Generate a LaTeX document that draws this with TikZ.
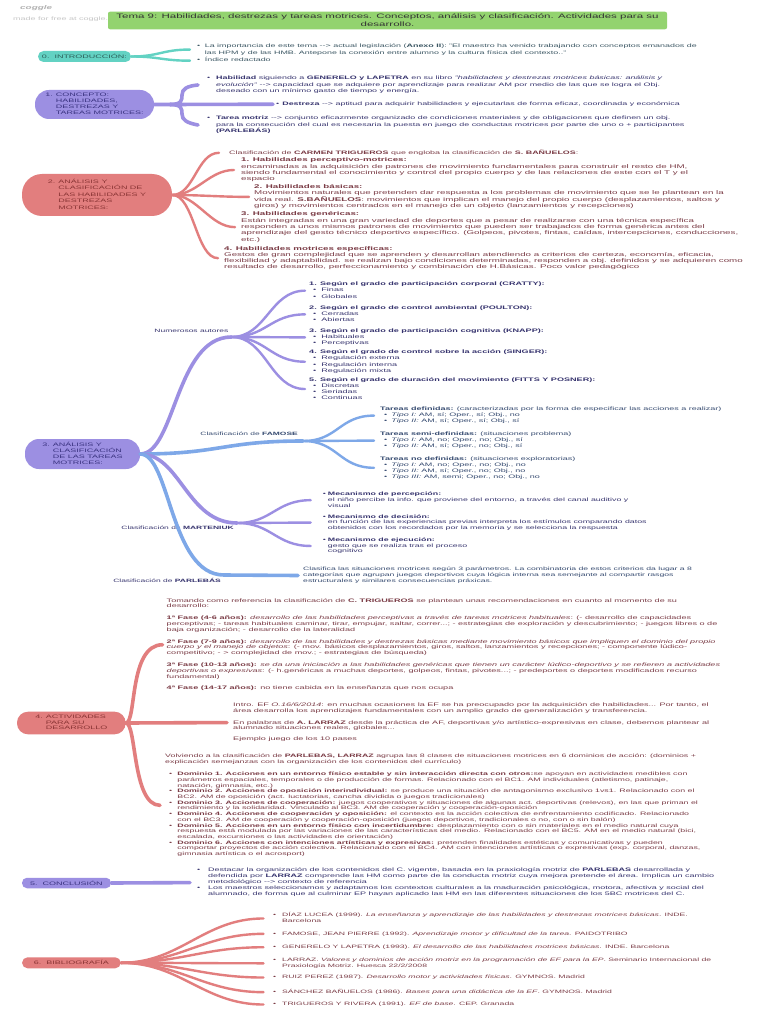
\documentclass[tikz,border=0pt]{standalone}
\usepackage{fontspec}
\setmainfont{Liberation Sans}[FakeStretch=1.8]
\usepackage{xcolor}
\usetikzlibrary{positioning,calc}
\definecolor{verde}{HTML}{93D36F}
\definecolor{turquesa}{HTML}{63D2C3}
\definecolor{lila}{HTML}{9C8FE2}
\definecolor{azul}{HTML}{7EA8E8}
\definecolor{salmon}{HTML}{E27E7E}
\definecolor{osturq}{HTML}{3A5562}
\definecolor{oslila}{HTML}{36336E}
\definecolor{osazul}{HTML}{34496F}
\definecolor{osrojo}{HTML}{7A3B45}
\definecolor{pturq}{HTML}{2C5E58}
\definecolor{plila}{HTML}{3A3380}
\definecolor{projo}{HTML}{8A3535}
\newcommand{\blk}[1]{\begin{tabular}[t]{@{}l@{}}#1\end{tabular}}
\newcommand{\bul}[2][4.5pt]{\begin{tabular}[t]{@{}l@{\hspace{#1}}l@{}}#2\end{tabular}}
\newcommand{\lst}[2][4.5pt]{\begin{tabular}[t]{@{\hspace{4pt}}l@{\hspace{#1}}l@{}}#2\end{tabular}}
\newcommand{\cab}[1]{\multicolumn{2}{@{}l@{}}{#1}}
\newcommand{\flecha}{-{}->}
\newcommand{\tam}[2]{\fontsize{#1}{#2}\selectfont}
\tikzset{
  pildora/.style={inner sep=0pt, font=\tam{5}{6}},
  texto/.style={inner sep=0pt, anchor=base west},
  etiqueta/.style={inner sep=0pt, font=\tam{4.7}{6}},
  rama/.style={line width=2.4pt, line cap=round},
  tronco/.style={line width=3.6pt, line cap=round}
}
\begin{document}
\begin{tikzpicture}[x=1pt,y=-1pt]
\fill[white] (0,0) rectangle (768,1024);
\useasboundingbox (0,0) rectangle (768,1024);

\node[texto, text=gray!60, font=\tam{5.5}{6}\bfseries\itshape] (marca) at (20,10) {coggle};
\node[texto, text=gray!45, font=\tam{5}{6}] (hecho) at (13,21) {made for free at coggle.it};
\node[fill=verde, rounded corners=2pt, minimum width=559, minimum height=17.6, inner sep=0pt, align=center, text=black!80, font=\tam{6.4}{8.3}] (tema) at (387.5,20.5) {Tema 9: Habilidades, destrezas y tareas motrices. Conceptos, análisis y clasificación. Actividades para su\\desarrollo.};

\node[pildora, fill=turquesa, text=pturq, minimum width=93, minimum height=11, rounded corners=5.5pt] (intro) at (84.5,56.5) {0.\ \ INTRODUCCIÓN:};
\node[texto, text=osturq, font=\tam{4.95}{6.5}] (imp) at (197,47.6) {\bul{•&La importancia de este tema \flecha{} actual legislación (\textbf{Anexo II}): "El maestro ha venido trabajando con conceptos emanados de\\&las HPM y de las HMB. Antepone la conexión entre alumno y la cultura física del contexto.."}};
\node[texto, text=osturq, font=\tam{4.95}{6.5}] (ind) at (197,62) {\bul{•&Índice redactado}};
\draw[rama, turquesa] (intro.east) .. controls +(28,0) and +(-28,0) .. ([xshift=-7pt]imp.west);
\draw[rama, turquesa] (intro.east) .. controls +(28,0) and +(-28,0) .. ([xshift=-7pt]ind.west);

\node[pildora, fill=lila, text=plila, minimum width=119, minimum height=29, rounded corners=14pt] (concepto) at (94.5,104.5) {\bul[3pt]{1.&CONCEPTO:\\&HABILIDADES,\\&DESTREZAS Y\\&TAREAS MOTRICES:}};
\node[texto, text=oslila, font=\tam{4.95}{6.5}] (habilidad) at (207,79.8) {\bul[5.9pt]{•&\textbf{Habilidad} siguiendo a \textbf{GENERELO y LAPETRA} en su libro \textit{"habilidades y destrezas motrices básicas: análisis y}\\&\textit{evolución"} \flecha{} capacidad que se adquiere por aprendizaje para realizar AM por medio de las que se logra el Obj.\\&deseado con un mínimo gasto de tiempo y energía.}};
\node[texto, text=oslila, font=\tam{4.95}{6.5}] (destreza) at (276,105.5) {\bul[3pt]{•&\textbf{Destreza} \flecha{} aptitud para adquirir habilidades y ejecutarlas de forma eficaz, coordinada y económica}};
\node[texto, text=oslila, font=\tam{4.95}{6.5}] (tarea) at (207,119.8) {\bul[5.9pt]{•&\textbf{Tarea motriz} \flecha{} conjunto eficazmente organizado de condiciones materiales y de obligaciones que definen un obj.\\&para la consecución del cual es necesaria la puesta en juego de conductas motrices por parte de uno o + participantes\\&\textbf{(PARLEBÁS)}}};
\coordinate (cb) at (170,104.5);
\draw[tronco, lila] (concepto.east) -- (cb) -- ([xshift=-3pt]destreza.west);
\draw[tronco, lila] (cb) .. controls (182,104.5) and (182,100) .. (182,95) .. controls (182,89) and (187,86) .. ([xshift=-9pt]habilidad.west);
\draw[tronco, lila] (cb) .. controls (182,104.5) and (182,109) .. (182,114) .. controls (182,120) and (187,123) .. ([xshift=-9pt]tarea.west);

\node[pildora, fill=salmon, text=projo, minimum width=150, minimum height=42, rounded corners=20pt, font=\tam{5}{6.5}] (analisis) at (97,195) {\bul[3pt]{2.&ANÁLISIS Y\\&CLASIFICACIÓN DE\\&LAS HABILIDADES Y\\&DESTREZAS\\&MOTRICES:}};
\node[texto, text=osrojo, font=\tam{4.95}{6}] (trig) at (229,154.5) {Clasificación de \textbf{CARMEN TRIGUEROS} que engloba la clasificación de \textbf{S. BAÑUELOS}:};
\node[texto, text=osrojo, font=\tam{5.42}{6.3}] (hab1) at (241,161.8) {\blk{\textbf{1. Habilidades perceptivo-motrices:}\\encaminadas a la adquisición de patrones de movimiento fundamentales para construir el resto de HM,\\siendo fundamental el conocimiento y control del propio cuerpo y de las relaciones de este con el T y el\\espacio}};
\node[texto, text=osrojo, font=\tam{5.42}{6.3}] (hab2) at (254,188.5) {\blk{\textbf{2. Habilidades básicas:}\\Movimientos naturales que pretenden dar respuesta a los problemas de movimiento que se le plantean en la\\vida real. \textbf{S.BAÑUELOS}: movimientos que implican el manejo del propio cuerpo (desplazamientos, saltos y\\giros) y movimientos centrados en el manejo de un objeto (lanzamientos y recepciones)}};
\node[texto, text=osrojo, font=\tam{5.42}{6.3}] (hab3) at (241,215.8) {\blk{\textbf{3. Habilidades genéricas:}\\Están integradas en una gran variedad de deportes que a pesar de realizarse con una técnica específica\\responden a unos mismos patrones de movimiento que pueden ser trabajados de forma genérica antes del\\aprendizaje del gesto técnico deportivo específico. (Golpeos, pivotes, fintas, caídas, intercepciones, conducciones,\\etc.)}};
\node[texto, text=osrojo, font=\tam{5.42}{6.3}] (hab4) at (224,250) {\blk{\textbf{4. Habilidades motrices específicas:}\\Gestos de gran complejidad que se aprenden y desarrollan atendiendo a criterios de certeza, economía, eficacia,\\flexibilidad y adaptabilidad. se realizan bajo condiciones determinadas, responden a obj. definidos y se adquieren como\\resultado de desarrollo, perfeccionamiento y combinación de H.Básicas. Poco valor pedagógico}};
\draw[rama, salmon] (analisis.east) .. controls +(22,0) and +(-22,0) .. ([xshift=-10pt]trig.west);
\draw[rama, salmon] (analisis.east) .. controls +(25,0) and +(-25,0) .. ([xshift=-7pt]hab1.west);
\draw[rama, salmon] (analisis.east) .. controls +(30,0) and +(-30,0) .. ([xshift=-5pt]hab2.west);
\draw[rama, salmon] (analisis.east) .. controls +(25,0) and +(-25,0) .. ([xshift=-6pt]hab3.west);
\draw[rama, salmon] (analisis.east) .. controls +(22,0) and +(-22,0) .. ([xshift=-6pt]hab4.west);

\node[pildora, fill=lila, text=plila, minimum width=115, minimum height=30, rounded corners=14pt] (tareas) at (82.5,454) {\bul[3pt]{3.&ANÁLISIS Y\\&CLASIFICACIÓN\\&DE LAS TAREAS\\&MOTRICES:}};
\coordinate (num) at (231.5,337);
\coordinate (fam) at (303,441);
\coordinate (mart) at (237,523);
\coordinate (parl) at (224,575);
\node[etiqueta, text=oslila, above left=4pt and 3pt of num] (numlab) {Numerosos autores};
\node[etiqueta, text=osazul, above left=5pt and 5pt of fam] (famlab) {Clasificación de \textbf{FAMOSE}};
\node[etiqueta, text=oslila, below left=2.5pt and 3pt of mart] (martlab) {Clasificación de \textbf{MARTENIUK}};
\node[etiqueta, text=oslila, below left=3pt and 3pt of parl] (parlab) {Clasificación de \textbf{PARLEBÁS}};

\node[texto, text=oslila, font=\tam{5.05}{6.1}] (cratty) at (309,285.8) {\lst[5pt]{\cab{\textbf{1. Según el grado de participación corporal (CRATTY):}}\\•&Finas\\•&Globales}};
\node[texto, text=oslila, font=\tam{5.05}{6.1}] (poulton) at (309,309.5) {\lst[5pt]{\cab{\textbf{2. Según el grado de control ambiental (POULTON):}}\\•&Cerradas\\•&Abiertas}};
\node[texto, text=oslila, font=\tam{5.05}{6.1}] (knapp) at (309,332.5) {\lst[5pt]{\cab{\textbf{3. Según el grado de participación cognitiva (KNAPP):}}\\•&Habituales\\•&Perceptivas}};
\node[texto, text=oslila, font=\tam{5.05}{6.1}] (singer) at (309,353.8) {\lst[5pt]{\cab{\textbf{4. Según el grado de control sobre la acción (SINGER):}}\\•&Regulación externa\\•&Regulación interna\\•&Regulación mixta}};
\node[texto, text=oslila, font=\tam{5.05}{6.1}] (fitts) at (309,381.1) {\lst[5pt]{\cab{\textbf{5. Según el grado de duración del movimiento (FITTS Y POSNER):}}\\•&Discretas\\•&Seriadas\\•&Continuas}};
\draw[tronco, lila] (tareas.east) .. controls +(35,0) and +(-56,0) .. (num);
\draw[rama, lila] (num) .. controls +(35,0) and +(-35,0) .. ([xshift=-4pt]cratty.west);
\draw[rama, lila] (num) .. controls +(35,0) and +(-35,0) .. ([xshift=-4pt]poulton.west);
\draw[rama, lila] (num) -- ([xshift=-4pt]knapp.west);
\draw[rama, lila] (num) .. controls +(35,0) and +(-35,0) .. ([xshift=-4pt]singer.west);
\draw[rama, lila] (num) .. controls +(35,0) and +(-35,0) .. ([xshift=-4pt]fitts.west);

\node[texto, text=osazul, font=\tam{5}{6}] (fdef) at (380,410.8) {\lst[4pt]{\cab{\textbf{Tareas definidas:} (caracterizadas por la forma de especificar las acciones a realizar)}\\•&\textit{Tipo I:} AM, sí; Oper., sí; Obj., no\\•&\textit{Tipo II:} AM, sí; Oper., sí; Obj., sí}};
\node[texto, text=osazul, font=\tam{5}{6}] (fsemi) at (380,435.8) {\lst[4pt]{\cab{\textbf{Tareas semi-definidas:} (situaciones problema)}\\•&\textit{Tipo I:} AM, no; Oper., no; Obj., sí\\•&\textit{Tipo II:} AM, sí; Oper., no; Obj., sí}};
\node[texto, text=osazul, font=\tam{5}{6}] (fno) at (380,460) {\lst[4pt]{\cab{\textbf{Tareas no definidas:} (situaciones exploratorias)}\\•&\textit{Tipo I:} AM, no; Oper., no; Obj., no\\•&\textit{Tipo II:} AM, sí; Oper., no; Obj., no\\•&\textit{Tipo III:} AM, semi; Oper., no; Obj., no}};
\draw[tronco, azul] (tareas.east) .. controls +(80,0) and +(-80,0) .. (fam);
\draw[rama, azul] (fam) .. controls +(35,0) and +(-35,0) .. ([xshift=-6pt]fdef.west);
\draw[rama, azul] (fam) -- ([xshift=-6pt]fsemi.west);
\draw[rama, azul] (fam) .. controls +(35,0) and +(-35,0) .. ([xshift=-6pt]fno.west);

\node[texto, text=oslila, font=\tam{4.9}{5.7}] (percep) at (322.7,495.6) {\bul[2pt]{•&\textbf{Mecanismo de percepción:}\\&el niño percibe la info. que proviene del entorno, a través del canal auditivo y\\&visual}};
\node[texto, text=oslila, font=\tam{4.9}{5.7}] (decis) at (322.7,518) {\bul[2pt]{•&\textbf{Mecanismo de decisión:}\\&en función de las experiencias previas interpreta los estímulos comparando datos\\&obtenidos con los recordados por la memoria y se selecciona la respuesta}};
\node[texto, text=oslila, font=\tam{4.9}{5.7}] (ejec) at (322.7,541.4) {\bul[2pt]{•&\textbf{Mecanismo de ejecución:}\\&gesto que se realiza tras el proceso\\&cognitivo}};
\draw[tronco, lila] (tareas.east) .. controls +(40,0) and +(-50,0) .. (mart);
\draw[rama, lila] (mart) .. controls +(35,0) and +(-35,0) .. ([xshift=-12pt]percep.west);
\draw[rama, lila] (mart) -- ([xshift=-12pt]decis.west);
\draw[rama, lila] (mart) .. controls +(35,0) and +(-35,0) .. ([xshift=-12pt]ejec.west);

\node[texto, text=osazul, font=\tam{4.8}{6}] (parlebas) at (303,570.7) {\blk{Clasifica las situaciones motrices según 3 parámetros. La combinatoria de estos criterios da lugar a 8\\categorías que agrupan juegos deportivos cuya lógica interna sea semejante al compartir rasgos\\estructurales y similares consecuencias práxicas.}};
\draw[tronco, azul] (tareas.east) .. controls +(30,0) and +(-54,0) .. (parl) -- ([xshift=-5pt]parlebas.west);

\node[pildora, fill=salmon, text=projo, minimum width=108.6, minimum height=22.6, rounded corners=11pt, font=\tam{5}{5.8}] (activ) at (71.3,723) {\bul[3pt]{4.&ACTIVIDADES\\&PARA SU\\&DESARROLLO}};
\node[texto, text=osrojo, font=\tam{5.05}{5.8}] (tomando) at (166.5,602) {\blk{Tomando como referencia la clasificación de \textbf{C. TRIGUEROS} se plantean unas recomendaciones en cuanto al momento de su\\desarrollo:\\[6pt]
\textbf{1ª Fase (4-6 años):} \textit{desarrollo de las habilidades perceptivas a través de tareas motrices habituales}: (- desarrollo de capacidades\\perceptivas; - tareas habituales caminar, tirar, empujar, saltar, correr...; - estrategias de exploración y descubrimiento; - juegos libres o de\\baja organización; - desarrollo de la lateralidad\\[6pt]
\textbf{2ª Fase (7-9 años):} \textit{desarrollo de las habilidades y destrezas básicas mediante movimiento básicos que impliquen el dominio del propio}\\\textit{cuerpo y el manejo de objetos}: (- mov. básicos desplazamientos, giros, saltos, lanzamientos y recepciones; - componente lúdico-\\competitivo; - > complejidad de mov.; - estrategias de búsqueda)\\[6pt]
\textbf{3ª Fase (10-13 años):} \textit{se da una iniciación a las habilidades genéricas que tienen un carácter lúdico-deportivo y se refieren a actividades}\\\textit{deportivas o expresivas}: (- h.genéricas a muchas deportes, golpeos, fintas, pivotes...; - predeportes o deportes modificados recurso\\fundamental)\\[6pt]
\textbf{4ª Fase (14-17 años):} no tiene cabida en la enseñanza que nos ocupa}};
\node[texto, text=osrojo, font=\tam{5.05}{5.7}] (introef) at (233,706.7) {\blk{Intro. EF \textit{O.16/6/2014}: en muchas ocasiones la EF se ha preocupado por la adquisición de habilidades... Por tanto, el\\área desarrolla los aprendizajes fundamentales con un amplio grado de generalización y transferencia.\\[5.9pt]
En palabras de \textbf{A. LARRAZ} desde la práctica de AF, deportivas y/o artístico-expresivas en clase, debemos plantear al\\alumnado situaciones reales, globales...\\[5.3pt]
Ejemplo juego de los 10 pases}};
\node[texto, text=osrojo, font=\tam{4.9}{5.7}] (volviendo) at (165,757.4) {\lst[5.1pt]{\cab{Volviendo a la clasificación de \textbf{PARLEBAS, LARRAZ} agrupa las 8 clases de situaciones motrices en 6 dominios de acción: (dominios +}\\\cab{explicación semejanzas con la organización de los contenidos del currículo)}\\[6.9pt]
•&\textbf{Dominio 1. Acciones en un entorno físico estable y sin interacción directa con otros:}se apoyan en actividades medibles con\\&parámetros espaciales, temporales o de producción de formas. Relacionado con el BC1. AM individuales (atletismo, patinaje,\\&natación, gimnasia, etc.)\\
•&\textbf{Dominio 2. Acciones de oposición interindividual:} se produce una situación de antagonismo exclusivo 1vs1. Relacionado con el\\&BC2. AM de oposición (act. luctatorias, cancha dividida o juegos tradicionales)\\
•&\textbf{Dominio 3. Acciones de cooperación:} juegos cooperativos y situaciones de algunas act. deportivas (relevos), en las que priman el\\&rendimiento y la solidaridad. Vinculado al BC3. AM de cooperación y cooperación-oposición\\
•&\textbf{Dominio 4. Acciones de cooperación y oposición:} el contexto es la acción colectiva de enfrentamiento codificado. Relacionado\\&con el BC3. AM de cooperación y cooperación-oposición (juegos deportivos, tradicionales o no, con o sin balón)\\
•&\textbf{Dominio 5. Acciones en un entorno físico con incertidumbre:} desplazamiento con o sin materiales en el medio natural cuya\\&respuesta está modulada por las variaciones de las características del medio. Relacionado con el BC5. AM en el medio natural (bici,\\&escalada, excursiones o las actividades de orientación)\\
•&\textbf{Dominio 6. Acciones con intenciones artísticas y expresivas:} pretenden finalidades estéticas y comunicativas y pueden\\&comportar proyectos de acción colectiva. Relacionado con el BC4. AM con intenciones artísticas o expresivas (exp. corporal, danzas,\\&gimnasia artística o el acrosport)}};
\draw[tronco, salmon] (activ.east) .. controls +(11,0) and +(-34,0) .. ([xshift=-4pt]tomando.west);
\draw[tronco, salmon] (activ.east) -- ([xshift=-6pt]introef.west);
\draw[tronco, salmon] (activ.east) .. controls +(11,0) and +(-28,0) .. ([xshift=-5pt]volviendo.west);

\node[pildora, fill=lila, text=plila, minimum width=89, minimum height=10.5, rounded corners=5pt] (conclu) at (66.5,883) {5.\ \ CONCLUSIÓN};
\node[texto, text=oslila, font=\tam{5}{6}] (concl) at (197,871.8) {\bul[7.8pt]{•&Destacar la organización de los contenidos del C. vigente, basada en la praxiología motriz de \textbf{PARLEBAS} desarrollada y\\&defendida por \textbf{LARRAZ} comprende las HM como parte de la conducta motriz cuya mejora pretende el área. Implica un cambio\\&metodológico \flecha{} contexto de referencia\\•&Los maestros seleccionamos y adaptamos los contextos culturales a la maduración psicológica, motora, afectiva y social del\\&alumnado, de forma que al culminar EP hayan aplicado las HM en las diferentes situaciones de los 5BC motrices del C.}};
\draw[tronco, lila] (conclu.east) -- ([xshift=-7pt]concl.west);

\node[pildora, fill=salmon, text=projo, minimum width=98.7, minimum height=11, rounded corners=5.5pt] (biblio) at (71.4,962.8) {6.\ \ BIBLIOGRAFÍA};
\node[texto, text=osrojo, font=\tam{4.8}{5.9}] (diaz) at (273,916.7) {\bul[6pt]{•&DÍAZ LUCEA (1999). \textit{La enseñanza y aprendizaje de las habilidades y destrezas motrices básicas}. INDE.\\&Barcelona}};
\node[texto, text=osrojo, font=\tam{4.8}{5.9}] (famose) at (273,935) {\bul[6pt]{•&FAMOSE, JEAN PIERRE (1992). \textit{Aprendizaje motor y dificultad de la tarea}. PAIDOTRIBO}};
\node[texto, text=osrojo, font=\tam{4.8}{5.9}] (generelo) at (273,948.4) {\bul[6pt]{•&GENERELO Y LAPETRA (1993). \textit{El desarrollo de las habilidades motrices básicas}. INDE. Barcelona}};
\node[texto, text=osrojo, font=\tam{4.8}{6.3}] (larraz) at (273,961.4) {\bul[6pt]{•&LARRAZ. \textit{Valores y dominios de acción motriz en la programación de EF para la EP}. Seminario Internacional de\\&Praxiología Motriz. Huesca 22/2/2008}};
\node[texto, text=osrojo, font=\tam{4.8}{5.9}] (ruiz) at (273,978.7) {\bul[6pt]{•&RUIZ PEREZ (1987). \textit{Desarrollo motor y actividades físicas}. GYMNOS. Madrid}};
\node[texto, text=osrojo, font=\tam{4.8}{5.9}] (sanchez) at (273,993.4) {\bul[6pt]{•&SÁNCHEZ BAÑUELOS (1986). \textit{Bases para una didáctica de la EF}. GYMNOS. Madrid}};
\node[texto, text=osrojo, font=\tam{4.8}{5.9}] (trigueros) at (273,1005.7) {\bul[6pt]{•&TRIGUEROS Y RIVERA (1991). \textit{EF de base}. CEP. Granada}};
\draw[rama, salmon] (biblio.east) .. controls +(60,0) and +(-60,0) .. ([xshift=-9.5pt]diaz.west);
\draw[rama, salmon] (biblio.east) .. controls +(60,0) and +(-60,0) .. ([xshift=-9.5pt]famose.west);
\draw[rama, salmon] (biblio.east) .. controls +(60,0) and +(-60,0) .. ([xshift=-9.5pt]generelo.west);
\draw[rama, salmon] (biblio.east) .. controls +(60,0) and +(-60,0) .. ([xshift=-9.5pt]larraz.west);
\draw[rama, salmon] (biblio.east) .. controls +(60,0) and +(-60,0) .. ([xshift=-9.5pt]ruiz.west);
\draw[rama, salmon] (biblio.east) .. controls +(60,0) and +(-60,0) .. ([xshift=-9.5pt]sanchez.west);
\draw[rama, salmon] (biblio.east) .. controls +(60,0) and +(-60,0) .. ([xshift=-9.5pt]trigueros.west);
\end{tikzpicture}
\end{document}
